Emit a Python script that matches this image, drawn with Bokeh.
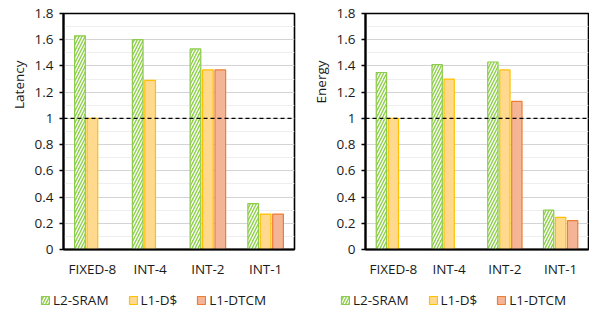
from bokeh.plotting import figure
from bokeh.layouts import row, column
from bokeh.models import ColumnDataSource, FixedTicker, Span, Legend, LegendItem, Title
from bokeh.transform import dodge
from bokeh.embed import file_html
from bokeh.resources import INLINE

# ---- data ----
categories = ["FIXED-8", "INT-4", "INT-2", "INT-1"]
series_names = ["L2-SRAM", "L1-D$", "L1-DTCM"]

latency_l2_sram = [1.63, 1.60, 1.53, 0.35]
latency_l1_dcache = [1.00, 1.29, 1.37, 0.27]
latency_l1_dtcm = [None, None, 1.37, 0.27]

energy_l2_sram = [1.35, 1.41, 1.43, 0.30]
energy_l1_dcache = [1.00, 1.30, 1.37, 0.245]
energy_l1_dtcm = [None, None, 1.13, 0.22]

y_major_ticks = [0, 0.2, 0.4, 0.6, 0.8, 1.0, 1.2, 1.4, 1.6, 1.8]
y_minor_ticks = [0.1, 0.3, 0.5, 0.7, 0.9, 1.1, 1.3, 1.5, 1.7]
baseline_value = 1.0

FONT = "Open Sans"
FS = "13.5px"
TEXT_COLOR = "#1a1a1a"

styles = [
    dict(offset=-0.215, fill_color="#92D050", line_color="#8CCB4C",
         hatch_pattern="/", hatch_color="white", hatch_weight=1.3, hatch_scale=6),
    dict(offset=0.0, fill_color="#FFD98E", line_color="#FFC000"),
    dict(offset=0.215, fill_color="#F4B596", line_color="#ED7D31"),
]


def bar_style(st):
    kw = dict(fill_color=st["fill_color"], line_color=st["line_color"], line_width=1.2)
    if "hatch_pattern" in st:
        kw.update(hatch_pattern=st["hatch_pattern"], hatch_color=st["hatch_color"],
                  hatch_weight=st["hatch_weight"], hatch_scale=st["hatch_scale"])
    return kw


def series_source(vals):
    cats = [c for c, v in zip(categories, vals) if v is not None]
    tops = [v for v in vals if v is not None]
    return ColumnDataSource(dict(cat=cats, top=tops))


def make_panel(ylabel, series_values, width, border_left, border_right, title_offset):
    p = figure(x_range=categories, y_range=(0, 1.8), width=width, height=285,
               output_backend="svg", toolbar_location=None,
               min_border_left=border_left, min_border_right=border_right,
               min_border_top=13, min_border_bottom=36)
    p.background_fill_color = "white"
    p.border_fill_color = None
    p.outline_line_color = "black"
    p.outline_line_width = 1.6

    for name, vals, st in zip(series_names, series_values, styles):
        p.vbar(x=dodge("cat", st["offset"], range=p.x_range), top="top",
               bottom=0, width=0.185, source=series_source(vals), **bar_style(st))

    p.add_layout(Span(location=baseline_value, dimension="width", line_color="black",
                      line_dash="4 3", line_width=1.3))

    # axes
    p.yaxis.ticker = FixedTicker(ticks=y_major_ticks, minor_ticks=y_minor_ticks)
    p.yaxis.major_label_overrides = {0: "0", 1: "1"}
    p.yaxis.axis_line_width = 2.2
    p.yaxis.axis_line_color = "black"
    p.yaxis.major_tick_in = 0
    p.yaxis.major_tick_out = 4
    p.yaxis.major_tick_line_width = 1.5
    p.yaxis.minor_tick_out = 0
    p.yaxis.minor_tick_in = 0
    p.yaxis.major_label_standoff = 6
    p.yaxis.major_label_text_font = FONT
    p.yaxis.major_label_text_font_size = FS
    p.yaxis.major_label_text_color = TEXT_COLOR

    p.xaxis.axis_line_width = 2.2
    p.xaxis.axis_line_color = "black"
    p.xaxis.major_tick_in = 0
    p.xaxis.major_tick_out = 0
    p.xaxis.minor_tick_out = 0
    p.xaxis.major_label_standoff = 10
    p.xaxis.major_label_text_font = FONT
    p.xaxis.major_label_text_font_size = FS
    p.xaxis.major_label_text_color = TEXT_COLOR

    # grid
    p.xgrid.grid_line_color = None
    p.ygrid.ticker = FixedTicker(ticks=y_major_ticks, minor_ticks=y_minor_ticks)
    p.ygrid.grid_line_color = "#d4d4d4"
    p.ygrid.grid_line_width = 1
    p.ygrid.minor_grid_line_color = "#eeeeee"
    p.ygrid.minor_grid_line_width = 1

    # y label (Excel-like placement, near the top)
    p.add_layout(Title(text=ylabel, align="right", offset=title_offset, standoff=8,
                       text_font=FONT, text_font_size=FS, text_font_style="normal",
                       text_color=TEXT_COLOR), "left")
    return p


def make_legend(series_values, width, legend_x):
    # legend-only strip: same series, y range placed so that bars stay out of view
    lf = figure(width=width, height=25, x_range=categories, y_range=(10, 11),
                output_backend="svg", toolbar_location=None, min_border=0)
    lf.axis.visible = False
    lf.grid.visible = False
    lf.outline_line_color = None
    lf.border_fill_color = None
    lf.background_fill_color = None
    items = []
    for name, vals, st in zip(series_names, series_values, styles):
        r = lf.vbar(x="cat", top="top", bottom=0, width=0.185,
                    source=series_source(vals), **bar_style(st))
        items.append(LegendItem(label=name, renderers=[r]))
    legend = Legend(items=items, location=(legend_x, 1), orientation="horizontal",
                    glyph_width=10, glyph_height=10, label_height=14, label_standoff=3,
                    spacing=19, padding=0, margin=0,
                    label_text_font=FONT, label_text_font_size=FS,
                    label_text_color=TEXT_COLOR,
                    background_fill_alpha=0, border_line_color=None)
    lf.add_layout(legend, "center")
    return lf


lat = [latency_l2_sram, latency_l1_dcache, latency_l1_dtcm]
ene = [energy_l2_sram, energy_l1_dcache, energy_l1_dtcm]

p1 = make_panel("Latency", lat, width=305, border_left=63, border_right=11, title_offset=47)
p2 = make_panel("Energy", ene, width=284, border_left=57, border_right=1, title_offset=47)
l1 = make_legend(lat, 305, 40)
l2 = make_legend(ene, 284, 35)

layout = column(row(p1, p2, spacing=0), row(l1, l2, spacing=0), spacing=0)
open("out.html", "w").write(file_html(layout, INLINE))
